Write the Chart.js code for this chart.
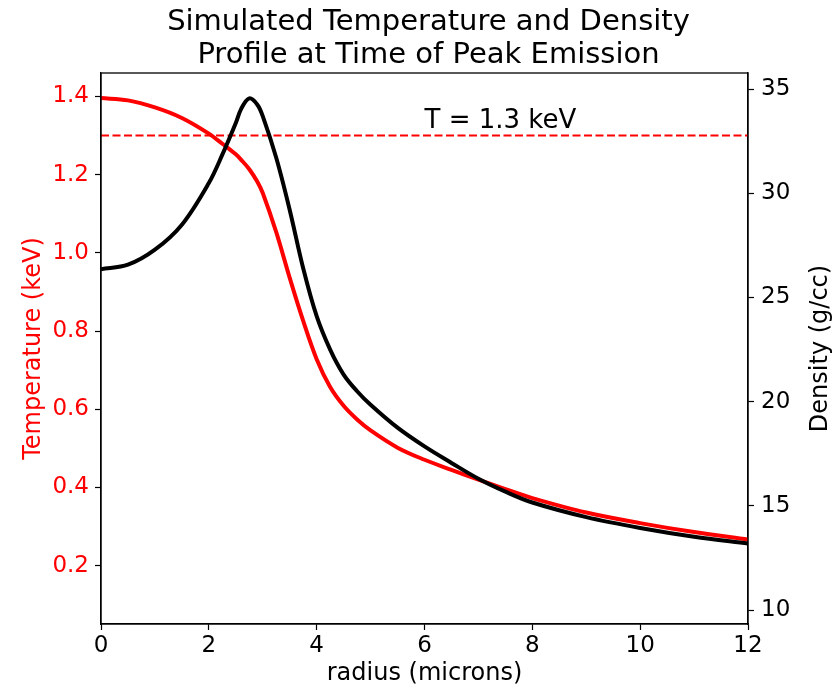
<!DOCTYPE html>
<html>
<head>
<meta charset="utf-8">
<script src="https://cdn.jsdelivr.net/npm/chart.js@4.4.0/dist/chart.umd.min.js"></script>
<style>
  html, body { margin: 0; padding: 0; background: #fff; }
  #wrap { width: 834px; height: 686px; position: relative; }
</style>
</head>
<body>
<div id="wrap"><canvas id="c" width="834" height="686"></canvas></div>
<script>
const titleLines = ["Simulated Temperature and Density", "Profile at Time of Peak Emission"];
const radius = [0, 0.5, 1, 1.5, 2, 2.25, 2.5, 2.6, 2.75, 2.9, 3, 3.25, 3.5, 3.75, 4, 4.25, 4.5, 4.75, 5, 5.5, 6, 6.5, 7, 7.5, 8, 9, 10, 11, 12];
const temperature = [1.396, 1.390, 1.372, 1.345, 1.305, 1.279, 1.252, 1.238, 1.214, 1.182, 1.153, 1.053, 0.936, 0.826, 0.728, 0.657, 0.609, 0.574, 0.546, 0.502, 0.471, 0.445, 0.420, 0.396, 0.373, 0.336, 0.309, 0.286, 0.267];
const density = [26.35, 26.57, 27.29, 28.49, 30.49, 31.85, 33.37, 34.05, 34.55, 34.25, 33.7, 31.7, 29.2, 26.4, 24.1, 22.5, 21.3, 20.5, 19.85, 18.75, 17.85, 17.06, 16.3, 15.68, 15.16, 14.46, 13.94, 13.52, 13.19];
const thresholdT = 1.3;
const thresholdLabel = "T = 1.3 keV";
const thresholdLabelAt = [6.0, 1.32];
const xTicks = [0, 2, 4, 6, 8, 10, 12];
const tempTicks = [0.2, 0.4, 0.6, 0.8, 1.0, 1.2, 1.4];
const densTicks = [10, 15, 20, 25, 30, 35];

const FONT = "'DejaVu Sans', sans-serif";

const pts = (xs, ys) => xs.map((x, i) => ({x: x, y: ys[i]}));

const deco = {
  id: 'deco',
  afterDatasetsDraw(chart) {
    const {ctx, chartArea: a, scales} = chart;
    ctx.save();
    ctx.strokeStyle = '#000';
    ctx.lineWidth = 1.3;
    ctx.strokeRect(a.left, a.top, a.right - a.left, a.bottom - a.top);
    ctx.fillStyle = '#000';
    ctx.font = "26px " + FONT;
    ctx.textAlign = 'left';
    ctx.textBaseline = 'alphabetic';
    ctx.fillText(thresholdLabel, scales.x.getPixelForValue(thresholdLabelAt[0]), scales.y.getPixelForValue(thresholdLabelAt[1]));
    ctx.restore();
  },
  afterDraw(chart) {
    const {ctx, chartArea: a} = chart;
    ctx.save();
    ctx.fillStyle = '#000';
    ctx.font = "29px " + FONT;
    ctx.textAlign = 'center';
    ctx.textBaseline = 'alphabetic';
    const cx = (a.left + a.right) / 2 + 4;
    ctx.fillText(titleLines[0], cx, 30);
    ctx.fillText(titleLines[1], cx, 63);
    ctx.font = "24px " + FONT;
    ctx.translate(821, (a.top + a.bottom) / 2);
    ctx.rotate(-Math.PI / 2);
    ctx.textBaseline = 'middle';
    ctx.fillText("Density (g/cc)", 0, 0);
    ctx.restore();
  }
};

const tickFont = {family: FONT, size: 23};
const labelFont = {family: FONT, size: 24};

new Chart(document.getElementById('c'), {
  type: 'line',
  data: {
    datasets: [
      {
        label: 'Density',
        data: pts(radius, density),
        yAxisID: 'y1',
        borderColor: '#000',
        borderWidth: 4,
        pointRadius: 0,
        tension: 0.35,
        order: 0
      },
      {
        label: 'Temperature',
        data: pts(radius, temperature),
        yAxisID: 'y',
        borderColor: '#ff0000',
        borderWidth: 4,
        pointRadius: 0,
        tension: 0.35,
        order: 1
      },
      {
        label: 'Threshold',
        data: pts([radius[0], radius[radius.length - 1]], [thresholdT, thresholdT]),
        yAxisID: 'y',
        borderColor: '#ff0000',
        borderWidth: 2,
        borderDash: [8, 3.5],
        pointRadius: 0,
        order: 2
      }
    ]
  },
  options: {
    responsive: false,
    animation: false,
    events: [],
    layout: {padding: {top: 73, left: 0, right: 0, bottom: 0}},
    plugins: {legend: {display: false}, tooltip: {enabled: false}, title: {display: false}},
    scales: {
      x: {
        type: 'linear',
        min: 0, max: 12,
        afterBuildTicks: s => { s.ticks = xTicks.map(v => ({value: v})); },
        afterFit: s => { s.height = 62; },
        grid: {drawOnChartArea: false, drawTicks: true, tickLength: 6, tickColor: '#000', tickWidth: 1.2},
        border: {display: true, color: '#000', width: 1.3},
        ticks: {color: '#000', font: tickFont, padding: 2, maxRotation: 0},
        title: {display: true, text: 'radius (microns)', color: '#000', font: labelFont, padding: {top: 0, bottom: -2}}
      },
      y: {
        position: 'left',
        min: 0.051, max: 1.46,
        afterBuildTicks: s => { s.ticks = tempTicks.map(v => ({value: v})); },
        afterFit: s => { s.width = 101; },
        grid: {drawOnChartArea: false, drawTicks: true, tickLength: 6, tickColor: '#000', tickWidth: 1.2},
        border: {display: true, color: '#000', width: 1.3},
        ticks: {color: '#ff0000', font: tickFont, padding: 6, callback: v => v.toFixed(1)},
        title: {display: true, text: 'Temperature (keV)', color: '#ff0000', font: labelFont, padding: {top: 19, bottom: 0}}
      },
      y1: {
        position: 'right',
        min: 9.33, max: 35.77,
        afterBuildTicks: s => { s.ticks = densTicks.map(v => ({value: v})); },
        afterFit: s => { s.width = 86; },
        grid: {drawOnChartArea: false, drawTicks: true, tickLength: 6, tickColor: '#000', tickWidth: 1.2},
        border: {display: true, color: '#000', width: 1.3},
        ticks: {color: '#000', font: tickFont, padding: 7, callback: v => String(v)}
      }
    }
  },
  plugins: [deco]
});
</script>
</body>
</html>
